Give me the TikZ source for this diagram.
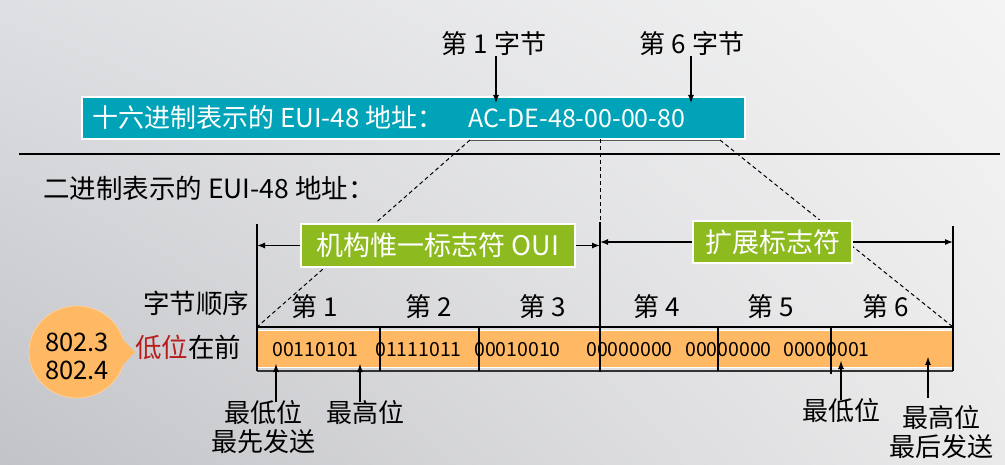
\documentclass[tikz,border=0pt]{standalone}
\usepackage{fontspec}
\setmainfont{Noto Sans CJK SC}
\usetikzlibrary{arrows.meta,shapes.geometric,shadings}
\definecolor{teal1}{RGB}{0,163,183}
\definecolor{green1}{RGB}{141,186,30}
\definecolor{orange1}{RGB}{255,185,100}
\definecolor{red1}{RGB}{184,30,30}
\definecolor{bgUL}{RGB}{222,223,226}
\definecolor{bgUR}{RGB}{244,244,244}
\definecolor{bgLL}{RGB}{194,195,199}
\definecolor{bgLR}{RGB}{234,234,235}
\tikzset{
  lbl/.style={font=\fontsize{26}{29}\selectfont, inner sep=0pt, text=black},
  wlbl/.style={lbl, text=white},
  bin/.style={font=\fontsize{19.5}{22}\selectfont, inner sep=0pt, anchor=west},
  gbox/.style={draw=white, line width=1.5pt, fill=green1, text=white, inner sep=0pt,
    font=\fontsize{27}{30}\selectfont},
  arr/.style={-{Latex[length=8pt,width=6pt]}, line width=1.3pt},
  uparr/.style={-{Latex[length=9pt,width=6pt]}, line width=1.8pt},
  dashline/.style={dash pattern=on 4pt off 3pt, line width=1pt},
  divider/.style={line width=1.3pt}
}
\begin{document}
\begin{tikzpicture}[x=1pt,y=-1pt]
\useasboundingbox (0,0) rectangle (1005,465);
\shade[upper left=bgUL, upper right=bgUR, lower left=bgLL, lower right=bgLR] (0,0) rectangle (1005,465);

% top hex box
\node[draw=white, line width=1.5pt, fill=teal1, minimum width=663pt, minimum height=42pt, inner sep=0pt] (hexbox) at (413.5,118) {};
\node[wlbl, anchor=west] (hexlbl) at (92,118) {十六进制表示的 EUI-48 地址：};
\node[wlbl, font=\fontsize{25}{29}\selectfont] (hexval) at (577,118) {AC-DE-48-00-00-80};

\node[lbl] (b1) at (494,44) {第 1 字节};
\node[lbl] (b6) at (692,44) {第 6 字节};
\coordinate (t1) at (496,103);
\coordinate (t6) at (691,103);
\draw[arr] (b1.south -| t1) -- (t1);
\draw[arr] (b6.south -| t6) -- (t6);

% separator
\coordinate (sepL) at (19,154);
\coordinate (sepR) at (1000,154);
\draw[line width=1.6pt] (sepL) -- (sepR);

\node[lbl, anchor=west, font=\fontsize{26.5}{29}\selectfont] (binlbl) at (43,188) {二进制表示的 EUI-48 地址：};

% bar
\coordinate (barTL) at (257,327);
\coordinate (barTR) at (953,327);
\coordinate (barBL) at (257,371);
\coordinate (barBR) at (953,371);
\node[draw=white, line width=1.2pt, fill=orange1, minimum width=696pt, minimum height=37pt, inner sep=0pt] (bar) at (605,349) {};
\draw[line width=1.6pt] (barTL) -- (barTR);
\draw[line width=1.2pt, black!80] (barBL) -- (barBR);

% trapezoid
\coordinate (tl) at (470,140);
\coordinate (tr) at (720,140);
\coordinate (tm) at (600,139);
\coordinate (mmid) at (600,222);
\coordinate (mbot) at (600,372);
\draw[gray!70!black, line width=0.8pt] (tl) -- (tr);
\draw[dashline] (tl) -- (barTL);
\draw[dashline] (tr) -- (barTR);
\draw[dashline] (tm) -- (mmid);
\draw[divider] (mmid) -- (mbot);

% side verticals
\coordinate (vl) at (257,224);
\coordinate (vr) at (953,226);
\draw[divider] (vl) -- (barBL);
\draw[divider] (vr) -- (barBR);

% byte dividers
\foreach \x/\b in {380/371, 479/371, 718/371, 831/374} {
  \coordinate (dt\x) at (\x,327);
  \coordinate (db\x) at (\x,\b);
  \draw[divider] (dt\x) -- (db\x);
}

% green boxes
\node[gbox, minimum width=274pt, minimum height=43pt] (oui) at (438,245.5) {机构惟一标志符 OUI};
\node[gbox, minimum width=159pt, minimum height=42pt] (ext) at (772.5,242) {扩展标志符};
\draw[arr] (oui.west) -- (oui.west -| vl);
\draw[arr] (oui.east) -- (oui.east -| mmid);
\draw[arr] (ext.west) -- (ext.west -| mmid);
\draw[arr] (ext.east) -- (ext.east -| vr);

% byte order labels
\node[lbl, font=\fontsize{26.5}{29}\selectfont] (order) at (196,303) {字节顺序};
\node[lbl] (d1) at (315,307) {第 1};
\node[lbl] (d2) at (429,307) {第 2};
\node[lbl] (d3) at (543,307) {第 3};
\node[lbl] (d4) at (657,307) {第 4};
\node[lbl] (d5) at (771,307) {第 5};
\node[lbl] (d6) at (886,307) {第 6};

% binary
\node[bin] (y1) at (272,350) {00110101};
\node[bin] (y2) at (375,350) {01111011};
\node[bin] (y3) at (474,350) {00010010};
\node[bin] (y4) at (586,350) {00000000};
\node[bin] (y5) at (685,350) {00000000};
\node[bin] (y6) at (783,350) {00000001};

% bubble
\node[ellipse, fill=orange1, draw=orange1!60!white, line width=0.6pt, minimum width=96pt, minimum height=92pt, inner sep=0pt] (bub) at (77,352) {};
\coordinate (pA) at (117,334);
\coordinate (pT) at (135,352);
\coordinate (pB) at (120,368);
\fill[orange1] (pA) -- (pT) -- (pB) -- cycle;
\node[lbl, align=center, font=\fontsize{25.5}{28}\selectfont] (bubtxt) at (77,356) {802.3\\802.4};
\node[lbl, anchor=west, font=\fontsize{26.5}{29}\selectfont] (low) at (135,347) {\textcolor{red1}{低位}在前};

% bit arrows
\coordinate (u1b) at (276,402); \coordinate (u1t) at (276,363);
\coordinate (u2b) at (360,402); \coordinate (u2t) at (360,363);
\coordinate (u3b) at (841,400); \coordinate (u3t) at (841,360);
\coordinate (u4b) at (928,398); \coordinate (u4t) at (928,356);
\draw[uparr] (u1b) -- (u1t);
\draw[uparr] (u2b) -- (u2t);
\draw[uparr] (u3b) -- (u3t);
\draw[uparr] (u4b) -- (u4t);

\node[lbl, align=center] (lsb1) at (263,427.5) {最低位\\最先发送};
\node[lbl] (msb1) at (365,413) {最高位};
\node[lbl] (lsb6) at (841,411) {最低位};
\node[lbl, align=center] (msb6) at (941,432.5) {最高位\\最后发送};
\end{tikzpicture}
\end{document}
